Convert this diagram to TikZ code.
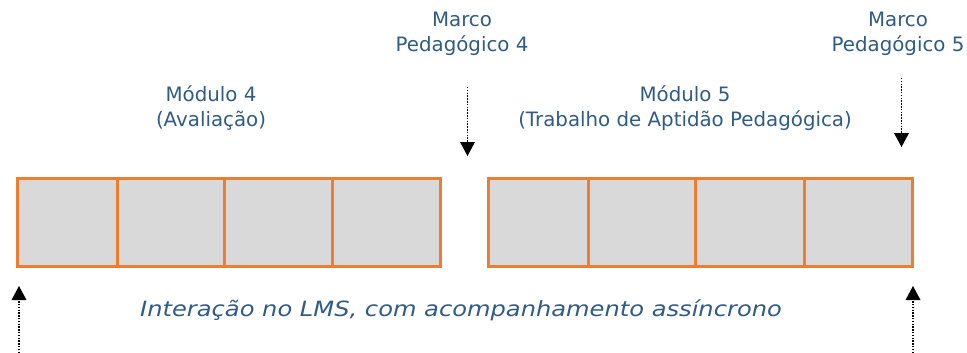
\documentclass[tikz,border=0pt]{standalone}
\usepackage{fontspec}
\setmainfont{DejaVu Sans}
\usetikzlibrary{arrows.meta}
\definecolor{txtblue}{HTML}{2F5B86}
\definecolor{orng}{HTML}{ED7D31}
\definecolor{boxgray}{HTML}{D9D9D9}
\tikzset{
  cell/.style={draw=orng, fill=boxgray, line width=2.6pt, inner sep=0pt},
  lbl/.style={text=txtblue, font=\fontsize{19.8}{25}\selectfont, align=center, inner sep=0pt},
  marker/.style={draw=black, line width=1.8pt, dash pattern=on 1.5pt off 1.3pt, -{Triangle[width=15pt,length=14pt,line width=0pt]}}
}
\begin{document}
\begin{tikzpicture}[x=1pt,y=-1pt]
\useasboundingbox (0,0) rectangle (967,353);
% left group
\node[cell, minimum width=100pt, minimum height=88pt, anchor=north west] (b1) at (16,177) {};
\node[cell, minimum width=107pt, minimum height=88pt, anchor=north west] (b2) at (116,177) {};
\node[cell, minimum width=108pt, minimum height=88pt, anchor=north west] (b3) at (223,177) {};
\node[cell, minimum width=108pt, minimum height=88pt, anchor=north west] (b4) at (331,177) {};
% right group
\node[cell, minimum width=100pt, minimum height=88pt, anchor=north west] (b5) at (487,177) {};
\node[cell, minimum width=107pt, minimum height=88pt, anchor=north west] (b6) at (587,177) {};
\node[cell, minimum width=109pt, minimum height=88pt, anchor=north west] (b7) at (694,177) {};
\node[cell, minimum width=108pt, minimum height=88pt, anchor=north west] (b8) at (803,177) {};
% labels
\node[lbl] (m4) at (211,108) {Módulo 4\\(Avaliação)};
\node[lbl] (m5) at (685,108) {Módulo 5\\(Trabalho de Aptidão Pedagógica)};
\node[lbl] (mp4) at (462,34) {Marco\\Pedagógico 4};
\node[lbl] (mp5) at (898,34) {Marco\\Pedagógico 5};
\node[lbl, font=\fontsize{21}{25}\selectfont\itshape, xscale=1.15, transform shape] (lms) at (461,310) {Interação no LMS, com acompanhamento assíncrono};
% arrows
\coordinate (a4s) at (467.5,87);
\coordinate (a4e) at (467.5,156);
\coordinate (a5s) at (901.5,78);
\coordinate (a5e) at (901.5,147);
\coordinate (l1s) at (19,353);
\coordinate (l1e) at (19,286);
\coordinate (r1s) at (913,353);
\coordinate (r1e) at (913,286);
\draw[marker] (a4s) -- (a4e);
\draw[marker] (a5s) -- (a5e);
\draw[marker] (l1s) -- (l1e);
\draw[marker] (r1s) -- (r1e);
\end{tikzpicture}
\end{document}
